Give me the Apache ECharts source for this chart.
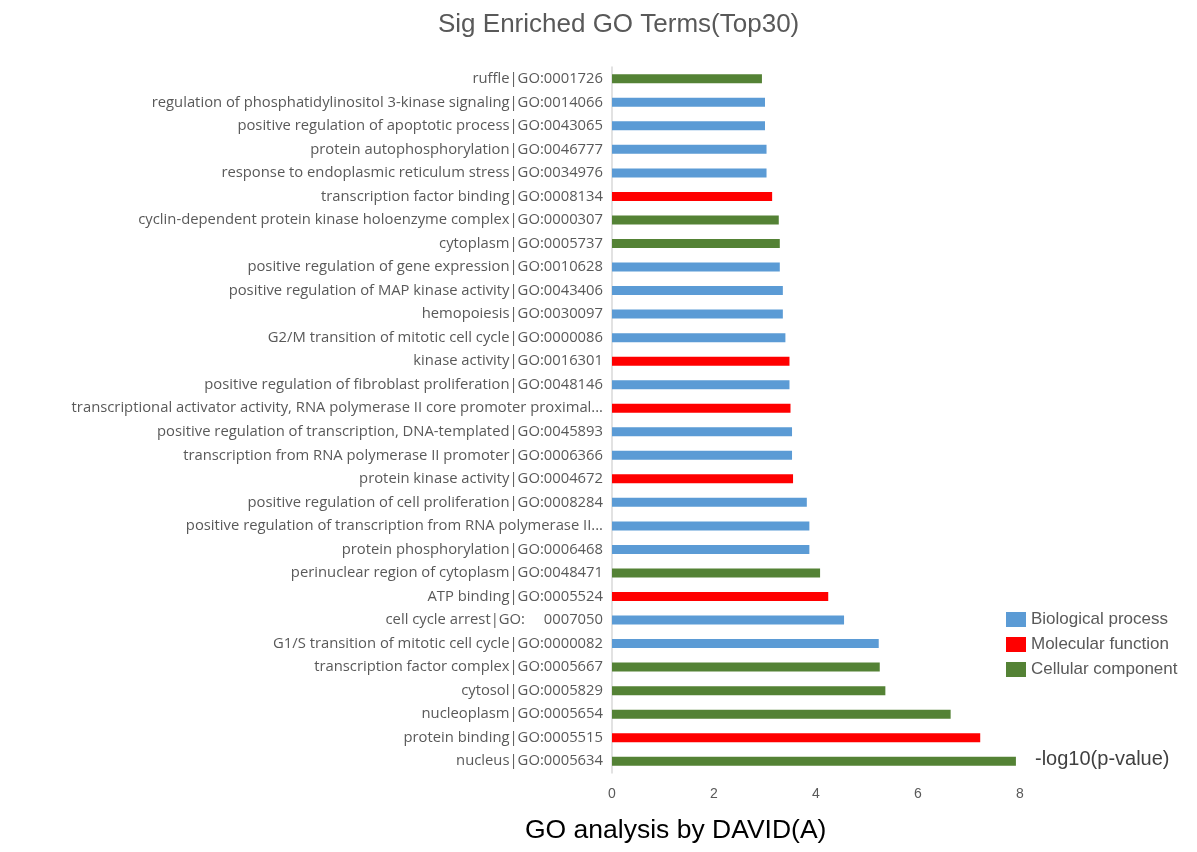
<!DOCTYPE html>
<html>
<head>
<meta charset="utf-8">
<script src="https://cdn.jsdelivr.net/npm/echarts@6/dist/echarts.min.js"></script>
<style>
html,body{margin:0;padding:0;background:#fff;}
#chart{width:1197px;height:852px;}
</style>
</head>
<body>
<div id="chart"></div>
<script>
// top-to-bottom order
const categories = [
  "ruffle|GO:0001726",
  "regulation of phosphatidylinositol 3-kinase signaling|GO:0014066",
  "positive regulation of apoptotic process|GO:0043065",
  "protein autophosphorylation|GO:0046777",
  "response to endoplasmic reticulum stress|GO:0034976",
  "transcription factor binding|GO:0008134",
  "cyclin-dependent protein kinase holoenzyme complex|GO:0000307",
  "cytoplasm|GO:0005737",
  "positive regulation of gene expression|GO:0010628",
  "positive regulation of MAP kinase activity|GO:0043406",
  "hemopoiesis|GO:0030097",
  "G2/M transition of mitotic cell cycle|GO:0000086",
  "kinase activity|GO:0016301",
  "positive regulation of fibroblast proliferation|GO:0048146",
  "transcriptional activator activity, RNA polymerase II core promoter proximal...",
  "positive regulation of transcription, DNA-templated|GO:0045893",
  "transcription from RNA polymerase II promoter|GO:0006366",
  "protein kinase activity|GO:0004672",
  "positive regulation of cell proliferation|GO:0008284",
  "positive regulation of transcription from RNA polymerase II...",
  "protein phosphorylation|GO:0006468",
  "perinuclear region of cytoplasm|GO:0048471",
  "ATP binding|GO:0005524",
  "cell cycle arrest|GO:\u3000 0007050",
  "G1/S transition of mitotic cell cycle|GO:0000082",
  "transcription factor complex|GO:0005667",
  "cytosol|GO:0005829",
  "nucleoplasm|GO:0005654",
  "protein binding|GO:0005515",
  "nucleus|GO:0005634"
];
const values = [2.94, 3.0, 3.0, 3.03, 3.03, 3.14, 3.27, 3.29, 3.29, 3.35, 3.35, 3.40, 3.48, 3.48, 3.50, 3.53, 3.53, 3.55, 3.82, 3.87, 3.87, 4.08, 4.24, 4.55, 5.23, 5.25, 5.36, 6.64, 7.22, 7.92];
// B = Biological process, M = Molecular function, C = Cellular component
const types = ["C","B","B","B","B","M","C","C","B","B","B","B","M","B","M","B","B","M","B","B","B","C","M","B","B","C","C","C","M","C"];
const groupNames = {B:"Biological process", M:"Molecular function", C:"Cellular component"};
const groupColors = {B:"#5B9BD5", M:"#FF0000", C:"#548235"};
const xTicks = [0, 2, 4, 6, 8];

const chart = echarts.init(document.getElementById('chart'));
const series = ["B","M","C"].map(k => ({
  name: groupNames[k],
  type: 'bar',
  stack: 'all',
  barWidth: 9,
  itemStyle: {color: groupColors[k]},
  data: values.map((v, i) => types[i] === k ? v : null)
}));
chart.setOption({
  animation: false,
  textStyle: {fontFamily: 'Open Sans'},
  title: {
    text: 'Sig Enriched GO Terms(Top30)',
    left: 433, top: 7,
    textStyle: {fontFamily: 'Liberation Sans', fontSize: 26, fontWeight: 'normal', color: '#595959'}
  },
  legend: {
    orient: 'vertical',
    left: 1001, top: 606,
    itemWidth: 20, itemHeight: 15, itemGap: 8,
    icon: 'rect',
    textStyle: {fontFamily: 'Liberation Sans', fontSize: 17, color: '#595959'},
    data: series.map(s => s.name)
  },
  grid: {left: 612, right: 177, top: 67, bottom: 79, containLabel: false},
  xAxis: {
    type: 'value', min: xTicks[0], max: xTicks[xTicks.length-1], interval: 2,
    axisLine: {show: false}, axisTick: {show: false}, splitLine: {show: false},
    axisLabel: {fontFamily: 'Liberation Sans', fontSize: 14, color: '#595959', margin: 14}
  },
  yAxis: {
    type: 'category', inverse: true, data: categories,
    axisLine: {show: true, lineStyle: {color: '#d9d9d9', width: 1.5}},
    axisTick: {show: false},
    axisLabel: {fontFamily: 'Open Sans', fontSize: 14.8, color: '#595959', margin: 9}
  },
  graphic: [
    {type: 'text', left: 525, top: 817, style: {text: 'GO analysis by DAVID(A)', font: '26.5px "Liberation Sans"', fill: '#000'}},
    {type: 'text', left: 1035, top: 749, style: {text: '-log10(p-value)', font: '20px "Liberation Sans"', fill: '#404040'}}
  ],
  series: series
});
</script>
</body>
</html>
